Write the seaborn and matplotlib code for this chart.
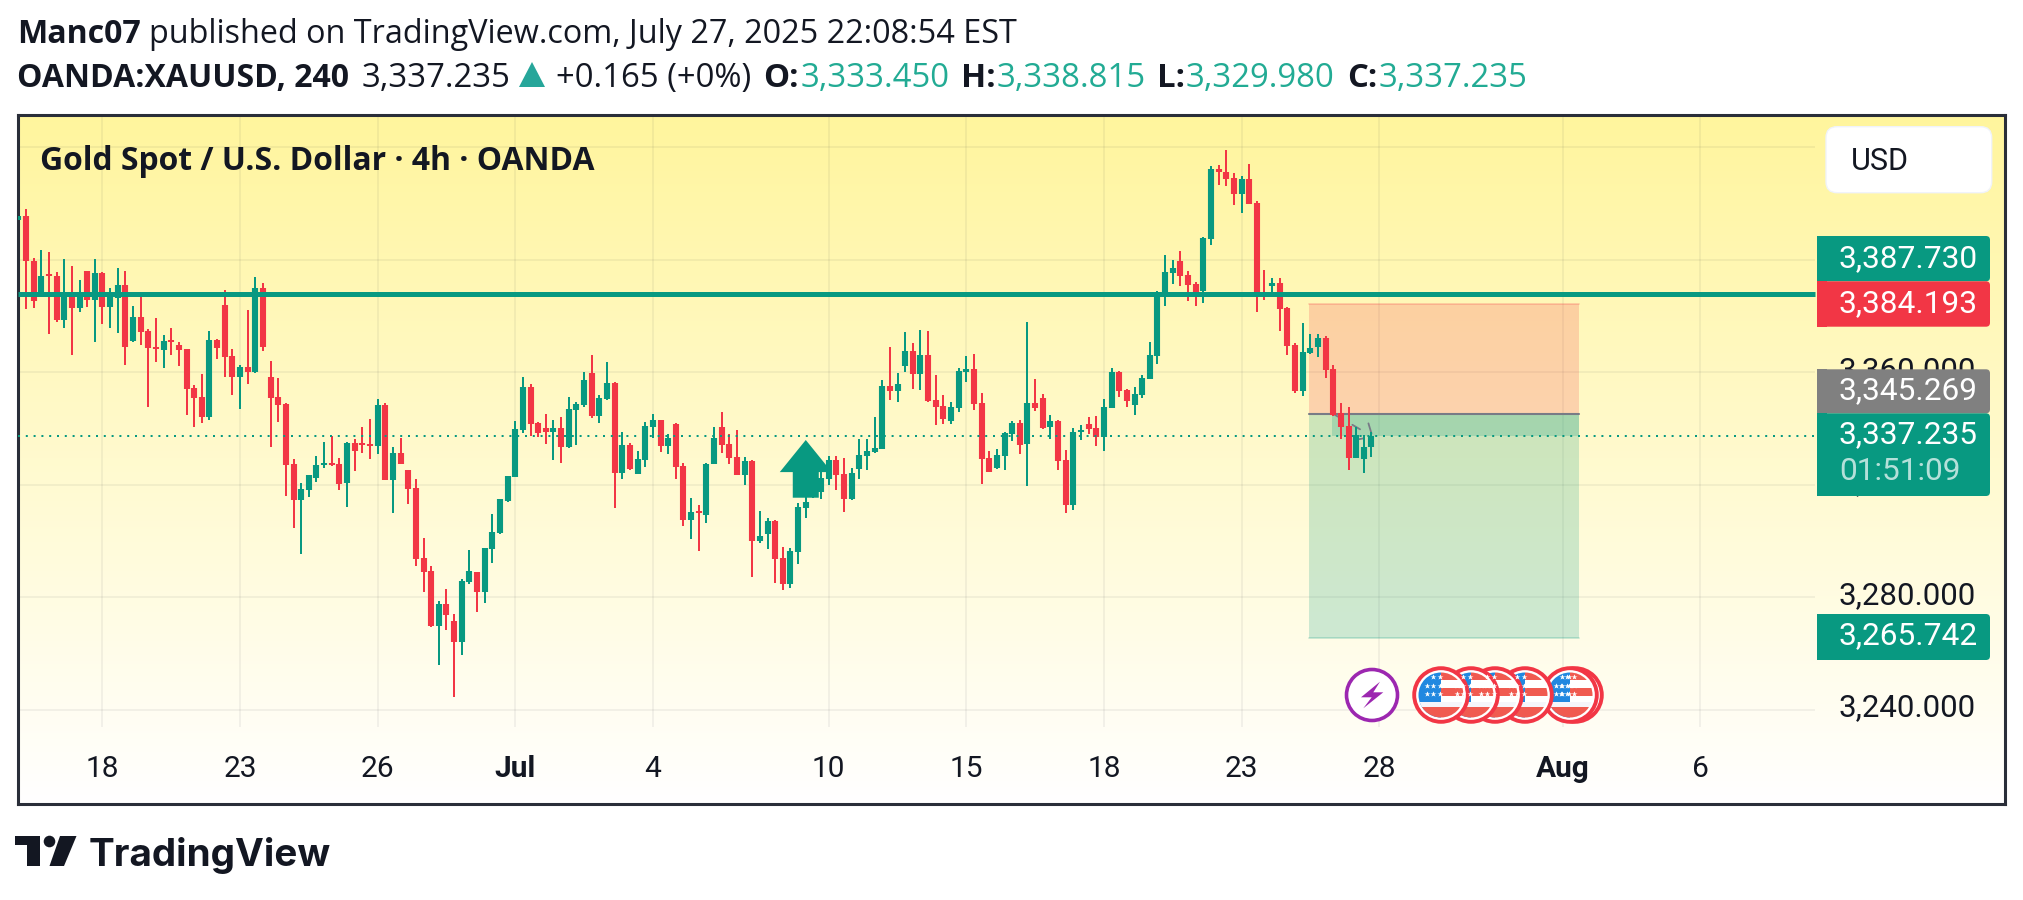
import numpy as np
import pandas as pd
import seaborn as sns
import matplotlib.pyplot as plt
from matplotlib.patches import Circle, FancyBboxPatch, Polygon, Rectangle
from matplotlib.lines import Line2D
from matplotlib.transforms import Affine2D, IdentityTransform

# 4h candles
opens = [3413.9, 3415.5, 3399.5, 3387.4, 3394.9, 3394.2, 3378.5, 3386.8, 3382.8, 3395.9,
         3385.6, 3395.2, 3383.2, 3386.4, 3391.0, 3371.1, 3379.6, 3374.6, 3368.9, 3367.9,
         3371.4, 3369.7, 3368.2, 3354.4, 3351.2, 3344.1, 3371.4, 3383.9, 3365.8, 3358.3,
         3361.8, 3360.1, 3389.9, 3358.3, 3351.2, 3348.7, 3327.4, 3314.6, 3318.2, 3322.4,
         3327.0, 3327.7, 3327.4, 3320.6, 3334.8, 3334.8, 3334.5, 3333.8, 3348.3, 3321.7,
         3331.3, 3325.3, 3318.9, 3294.0, 3289.4, 3269.8, 3277.7, 3271.6, 3264.2, 3285.5,
         3289.0, 3281.9, 3297.2, 3302.9, 3314.2, 3322.8, 3339.5, 3354.7, 3342.0, 3340.2,
         3338.8, 3340.2, 3333.4, 3346.6, 3348.3, 3359.7, 3344.4, 3350.5, 3356.2, 3324.2,
         3334.2, 3323.8, 3328.8, 3340.5, 3343.0, 3333.8, 3341.6, 3326.7, 3307.5, 3310.7,
         3309.3, 3327.4, 3340.5, 3334.5, 3329.9, 3323.5, 3328.5, 3300.0, 3302.5, 3307.2,
         3294.0, 3284.8, 3296.1, 3311.8, 3315.8, 3317.4, 3322.1, 3328.8, 3323.8, 3315.0,
         3325.6, 3330.2, 3331.7, 3332.7, 3355.1, 3353.3, 3362.2, 3367.5, 3359.4, 3366.1,
         3350.1, 3348.0, 3342.7, 3347.3, 3360.1, 3361.2, 3349.1, 3329.5, 3326.0, 3330.3,
         3338.1, 3342.0, 3334.5, 3349.1, 3350.9, 3340.6, 3342.7, 3328.8, 3312.9, 3338.8,
         3341.6, 3340.2, 3337.0, 3347.3, 3360.1, 3353.7, 3348.4, 3351.9, 3357.6, 3365.8,
         3387.8, 3395.3, 3399.5, 3394.5, 3391.4, 3388.9, 3407.3, 3432.2, 3431.1, 3429.0,
         3423.3, 3428.6, 3420.1, 3387.8, 3390.6, 3391.7, 3382.8, 3369.7, 3353.3, 3366.8,
         3369.0, 3372.2, 3361.2, 3345.5, 3340.9, 3329.5, 3329.2, 3333.45]
highs = [3415.5, 3418.0, 3400.5, 3403.4, 3402.7, 3395.6, 3400.2, 3397.8, 3392.7, 3395.9,
         3400.2, 3395.6, 3389.9, 3397.0, 3395.9, 3383.5, 3388.1, 3375.3, 3379.2, 3373.2,
         3375.7, 3370.7, 3368.2, 3355.4, 3359.4, 3374.6, 3371.8, 3389.2, 3368.2, 3362.6,
         3382.1, 3393.8, 3391.7, 3364.0, 3357.9, 3349.0, 3329.2, 3320.6, 3323.5, 3330.2,
         3335.2, 3337.3, 3329.5, 3335.2, 3336.3, 3340.5, 3343.4, 3350.5, 3349.0, 3333.4,
         3336.6, 3325.3, 3322.1, 3301.1, 3291.2, 3278.7, 3283.0, 3274.1, 3286.5, 3296.8,
         3289.0, 3297.5, 3309.6, 3315.0, 3323.1, 3342.7, 3358.3, 3355.8, 3342.3, 3345.2,
         3343.0, 3344.1, 3351.2, 3349.4, 3360.1, 3366.1, 3351.9, 3363.6, 3356.5, 3338.8,
         3334.9, 3332.0, 3342.3, 3345.2, 3343.0, 3338.0, 3342.0, 3327.7, 3315.3, 3312.8,
         3327.7, 3340.5, 3345.9, 3338.0, 3339.5, 3329.9, 3328.8, 3310.7, 3308.2, 3307.5,
         3297.9, 3297.6, 3313.5, 3315.8, 3328.0, 3325.3, 3330.2, 3330.2, 3329.5, 3326.0,
         3336.3, 3336.3, 3344.1, 3357.2, 3369.0, 3359.7, 3374.3, 3370.4, 3375.0, 3374.6,
         3359.0, 3351.9, 3349.4, 3361.5, 3365.8, 3366.5, 3352.6, 3332.0, 3332.7, 3338.8,
         3342.7, 3343.0, 3377.9, 3357.6, 3352.3, 3344.8, 3343.0, 3332.4, 3340.2, 3341.3,
         3344.1, 3344.5, 3350.5, 3361.5, 3360.4, 3354.1, 3354.8, 3359.0, 3370.7, 3388.9,
         3401.7, 3399.9, 3403.1, 3396.0, 3392.1, 3408.0, 3433.3, 3433.6, 3438.9, 3430.8,
         3429.7, 3434.0, 3420.8, 3396.3, 3393.5, 3393.5, 3383.2, 3370.4, 3377.5, 3373.6,
         3373.6, 3372.9, 3362.6, 3349.1, 3347.7, 3340.6, 3337.7, 3338.815]
lows = [3413.9, 3382.6, 3382.8, 3387.0, 3373.6, 3377.8, 3375.7, 3366.1, 3381.4, 3383.2,
        3370.7, 3377.1, 3375.7, 3373.9, 3362.6, 3370.7, 3369.7, 3347.6, 3363.6, 3361.5,
        3366.1, 3362.2, 3344.8, 3340.5, 3341.9, 3343.0, 3364.7, 3358.3, 3351.9, 3346.9,
        3355.8, 3359.7, 3367.5, 3333.4, 3342.3, 3316.0, 3304.7, 3295.4, 3315.7, 3321.0,
        3326.0, 3326.7, 3318.2, 3312.1, 3324.9, 3331.3, 3329.2, 3330.9, 3321.7, 3310.0,
        3327.4, 3313.2, 3291.2, 3281.9, 3269.5, 3256.0, 3268.4, 3244.6, 3259.5, 3284.8,
        3274.8, 3278.0, 3292.2, 3302.5, 3313.9, 3322.8, 3338.4, 3337.3, 3337.0, 3334.5,
        3328.8, 3327.7, 3333.1, 3334.1, 3347.6, 3343.7, 3342.0, 3350.1, 3311.8, 3322.1,
        3325.3, 3323.8, 3326.3, 3336.6, 3331.6, 3330.9, 3322.1, 3305.4, 3300.8, 3296.5,
        3306.4, 3327.4, 3331.3, 3327.4, 3323.5, 3319.9, 3287.3, 3299.3, 3297.2, 3285.1,
        3282.6, 3283.4, 3291.9, 3308.2, 3315.2, 3315.0, 3319.9, 3318.2, 3310.3, 3314.6,
        3322.1, 3325.3, 3331.3, 3332.7, 3350.1, 3349.4, 3360.1, 3354.0, 3353.7, 3349.4,
        3341.3, 3341.6, 3341.6, 3345.9, 3356.5, 3346.6, 3320.3, 3324.6, 3325.6, 3325.3,
        3335.6, 3331.0, 3319.6, 3346.2, 3339.8, 3336.3, 3325.3, 3310.0, 3311.1, 3336.0,
        3338.1, 3333.8, 3332.0, 3347.3, 3351.2, 3347.7, 3344.8, 3350.9, 3357.6, 3362.9,
        3383.5, 3391.4, 3390.6, 3385.3, 3383.5, 3384.6, 3405.2, 3426.5, 3426.2, 3419.4,
        3416.6, 3419.8, 3381.4, 3385.7, 3388.0, 3374.7, 3366.1, 3352.6, 3351.6, 3366.5,
        3365.4, 3358.0, 3344.5, 3336.3, 3325.3, 3329.5, 3324.2, 3329.98]
closes = [3415.5, 3399.3, 3385.1, 3394.2, 3394.2, 3378.5, 3388.4, 3382.8, 3388.4, 3385.6,
          3395.2, 3383.2, 3388.4, 3391.0, 3368.9, 3379.6, 3374.3, 3368.6, 3368.2, 3371.1,
          3370.7, 3367.9, 3354.0, 3350.8, 3344.1, 3371.4, 3368.6, 3365.4, 3358.3, 3361.8,
          3360.1, 3389.9, 3368.9, 3350.8, 3348.3, 3327.0, 3314.6, 3318.5, 3323.5, 3327.0,
          3327.7, 3327.0, 3320.3, 3334.8, 3332.0, 3334.1, 3333.8, 3348.3, 3321.7, 3331.3,
          3327.4, 3318.5, 3293.6, 3289.0, 3269.8, 3277.7, 3273.8, 3264.2, 3285.8, 3289.4,
          3281.9, 3297.5, 3303.2, 3315.0, 3323.1, 3339.8, 3354.7, 3341.6, 3338.4, 3338.8,
          3340.2, 3333.4, 3346.9, 3348.7, 3357.2, 3344.4, 3350.8, 3356.2, 3324.2, 3334.2,
          3325.6, 3329.2, 3340.9, 3343.0, 3333.8, 3336.6, 3326.3, 3307.5, 3310.3, 3310.0,
          3327.4, 3336.6, 3334.2, 3329.5, 3323.5, 3328.5, 3300.0, 3301.8, 3307.2, 3293.7,
          3284.8, 3296.5, 3312.1, 3313.9, 3320.5, 3322.4, 3328.8, 3323.5, 3315.0, 3324.2,
          3330.6, 3332.0, 3333.1, 3355.1, 3353.3, 3355.8, 3367.5, 3359.4, 3366.1, 3349.8,
          3347.6, 3343.4, 3347.6, 3360.4, 3361.1, 3348.7, 3329.2, 3324.6, 3330.6, 3338.4,
          3342.0, 3334.2, 3349.1, 3347.3, 3340.2, 3342.7, 3328.5, 3312.9, 3338.8, 3339.5,
          3339.8, 3337.0, 3347.7, 3360.1, 3353.3, 3349.8, 3352.3, 3358.0, 3366.1, 3387.8,
          3395.6, 3397.0, 3394.2, 3391.0, 3387.4, 3407.7, 3432.2, 3431.1, 3428.6, 3423.3,
          3428.6, 3419.8, 3387.1, 3387.1, 3391.7, 3382.5, 3369.3, 3353.3, 3367.2, 3368.6,
          3372.2, 3360.8, 3344.8, 3340.6, 3329.5, 3337.7, 3333.45, 3337.235]

price_ticks = [3240, 3280, 3320, 3360, 3400, 3440]
price_labels = ["3,240.000", "3,280.000", "3,320.000", "3,360.000", "", ""]
time_ticks = [11, 29, 47, 65, 83, 106, 124, 142, 160, 178, 202, 220]
time_labels = ["18", "23", "26", "Jul", "4", "10", "15", "18", "23", "28", "Aug", "6"]

level_line = 3387.73
last_price = 3337.235
stop_price = 3384.193
entry_price = 3345.269
target_price = 3265.742
position_start = 168.8
position_end = 204.1
profit_start = 171.8

GREEN = "#089981"
RED = "#f23645"
TEAL = "#22ab94"
INK = "#131722"
FRAME = "#2a2e39"
GRID = "#2a2e39"

W, H = 2023, 900


def px(x, y):
    # picture pixels, y down -> display coords
    return x, H - y


def put(fig, x, y, s, **kw):
    kw.setdefault("color", INK)
    kw.setdefault("fontsize", 23.7)
    kw.setdefault("family", "Open Sans")
    return fig.text(x / W, 1 - y / H, s, va="baseline", **kw)


def segments(ax, idx, lo, hi, color, lw):
    seg = pd.DataFrame({"i": np.repeat(idx, 2), "p": np.column_stack([lo, hi]).ravel()})
    sns.lineplot(data=seg, x="i", y="p", units="i", estimator=None, sort=False,
                 color=color, linewidth=lw, solid_capstyle="butt", legend=False,
                 ax=ax, zorder=3)


def tag(fig, x0, x1, y0, y1, color):
    tr = IdentityTransform()
    fig.add_artist(FancyBboxPatch(px(x0, y1), x1 - x0, y1 - y0, boxstyle="round,pad=0,rounding_size=4",
                                  fc=color, ec="none", transform=tr))
    fig.add_artist(Rectangle(px(x0, y1), 10, y1 - y0, fc=color, ec="none", transform=tr))


def flag(fig, cx, cy):
    tr = IdentityTransform()
    fig.add_artist(Circle(px(cx, cy), 26.8, fc="white", ec="#f23645", lw=2.8, transform=tr))
    clip = Circle(px(cx, cy), 22.5, transform=tr)
    parts = [(-23, -23, 23, 46, "#2188e0"), (0, -23, 23, 8, "#f05a50"), (0, -7, 23, 8, "#f05a50"),
             (-23, 7, 46, 5, "#f5f5fa"), (-23, 12, 46, 11, "#f05a50")]
    for dx, dy, w, h, c in parts:
        r = Rectangle(px(cx + dx, cy + dy + h), w, h, fc=c, ec="none", transform=tr)
        fig.add_artist(r)
        r.set_clip_path(clip)
    star_x = [-8, -1, -14, -8, -1, -14, -8, -1]
    star_y = [-18, -18, -9, -9, -9, -1, -1, -1]
    fig.add_artist(Line2D([cx + a for a in star_x], [H - cy - b for b in star_y], ls="none",
                          marker="*", ms=4.4, mfc="white", mec="none", transform=tr))


sns.set_theme(style="white")
plt.rcParams["font.family"] = ["Roboto", "DejaVu Sans"]

fig = plt.figure(figsize=(W / 100, H / 100), dpi=100, facecolor="white")
ax = fig.add_axes([17.5 / W, (H - 803.5) / H, (2004.5 - 17.5) / W, (803.5 - 114.5) / H])

xlim = (-0.11, 259.8)
ylim = (3206.8, 3451.5)
pane_right = 235.0
pane_bottom = 3234.0

# yellow -> white wash behind everything
wash = np.linspace(0, 1, 256)[:, None, None]
top_c = np.array([255, 245, 157]) / 255
ax.imshow(top_c + (1 - top_c) * wash, extent=[*xlim, *ylim], aspect="auto", origin="upper", zorder=0)

ax.hlines(price_ticks, xlim[0], pane_right, color=GRID, alpha=0.06, lw=1.4, zorder=1)
ax.vlines(time_ticks, pane_bottom, ylim[1], color=GRID, alpha=0.06, lw=1.4, zorder=1)

# short position tool
ax.fill_between([position_start, position_end], entry_price, stop_price, color=RED, alpha=0.2, lw=0, zorder=1.5)
ax.fill_between([position_start, position_end], target_price, entry_price, color=GREEN, alpha=0.2, lw=0, zorder=1.5)
ax.fill_between([profit_start, position_end], last_price, entry_price, color=GREEN, alpha=0.2, lw=0, zorder=1.5)
ax.plot([position_start, position_end], [stop_price, stop_price], color=RED, alpha=0.25, lw=1.2, zorder=1.6)
ax.plot([position_start, position_end], [target_price, target_price], color=GREEN, alpha=0.25, lw=1.2, zorder=1.6)
ax.plot([position_start, position_end], [entry_price, entry_price], color="#787b86", lw=1.5, zorder=1.6)

# bits of the dashed price path that show between the candles
path_bits = [([172.0, 172.6], [3345.2, 3344.2]), ([174.5, 175.5], [3341.3, 3339.7]),
             ([175.4, 176.0], [3336.2, 3336.5]), ([176.6, 177.0], [3341.8, 3338.2])]
for bx, by in path_bits:
    ax.plot(bx, by, color="#787b86", lw=1.3, zorder=2)

o = np.array(opens)
c = np.array(closes)
hi = np.array(highs)
lo = np.array(lows)
idx = np.arange(len(o))
up = c >= o
for mask, colr in [(up, GREEN), (~up, RED)]:
    segments(ax, idx[mask], lo[mask], hi[mask], colr, 1.44)
    segments(ax, idx[mask], np.minimum(o, c)[mask], np.maximum(o, c)[mask], colr, 4.4)

ax.hlines(level_line, xlim[0], pane_right, color=GREEN, lw=3.6, zorder=4)
ax.hlines(last_price, xlim[0], pane_right, color=GREEN, lw=1.44, linestyles=(0, (1, 2.9)), zorder=4)

# up arrow marker
arrow_x = [99.6, 103.0, 106.4, 104.7, 104.7, 101.3, 101.3]
arrow_y = [3324.5, 3335.9, 3324.5, 3324.5, 3315.4, 3315.4, 3324.5]
ax.fill(arrow_x, arrow_y, color=GREEN, lw=0, zorder=5)

ax.set(xlim=xlim, ylim=ylim, xlabel="", ylabel="")
ax.yaxis.tick_right()
ax.set_yticks(price_ticks)
ax.set_yticklabels(price_labels)
ax.set_xticks(time_ticks)
ax.set_xticklabels(time_labels)
ax.tick_params(axis="y", length=0, pad=-119.2, labelsize=22.5, labelcolor=INK)
ax.tick_params(axis="x", length=0, pad=-35, labelsize=21.5, labelcolor=INK)
for lab in ax.get_yticklabels():
    lab.set_transform(lab.get_transform() + Affine2D().translate(0, 5))
for lab in ax.get_xticklabels():
    if lab.get_text() in ("Jul", "Aug"):
        lab.set_fontweight("bold")
for sp in ax.spines.values():
    sp.set_color(FRAME)
    sp.set_linewidth(2.2)

# header lines
put(fig, 17, 43, "Manc07", fontweight="bold", fontsize=23.1)
put(fig, 149, 43, "published on TradingView.com, July 27, 2025 22:08:54 EST", fontsize=23.3)
put(fig, 17, 87, "OANDA:XAUUSD, 240", fontweight="bold", fontsize=23.05)
put(fig, 362, 87, "3,337.235")
fig.add_artist(Polygon([px(519, 87), px(532, 62), px(545, 87)], fc="#26a69a", ec="none", transform=IdentityTransform()))
put(fig, 556, 87, "+0.165 (+0%)")
for x_l, lab, x_v, val in [(763, "O:", 800.5, "3,333.450"), (961, "H:", 997, "3,338.815"),
                           (1157.5, "L:", 1186, "3,329.980"), (1347, "C:", 1379, "3,337.235")]:
    put(fig, x_l, 87, lab, fontweight="bold")
    put(fig, x_v, 87, val, color=TEAL)
put(fig, 40, 170, "Gold Spot / U.S. Dollar · 4h · OANDA", fontweight="bold", fontsize=22.95)

# USD button
fig.add_artist(FancyBboxPatch(px(1826, 192.7), 165.7, 66, boxstyle="round,pad=0,rounding_size=11",
                              fc="white", ec="#f0f3fa", lw=1, transform=IdentityTransform()))
put(fig, 1851, 169.5, "USD", family="Roboto", fontsize=22)

# price tags
tag(fig, 1817, 1990, 236, 281.3, GREEN)
tag(fig, 1817, 1990, 281.3, 326.7, RED)
tag(fig, 1817, 1990, 369.3, 413.3, "#808080")
tag(fig, 1817, 1990, 413.3, 496, GREEN)
tag(fig, 1817, 1990, 614, 660, GREEN)
for y, s in [(267, "3,387.730"), (312, "3,384.193"), (399, "3,345.269"), (443, "3,337.235"), (644, "3,265.742")]:
    put(fig, 1839, y, s, color="white", family="Roboto", fontsize=22.8)
put(fig, 1839, 480, "01:51:09", color="white", alpha=0.7, family="Roboto", fontsize=22.8)

# event icons
fig.add_artist(Circle(px(1372, 695), 25.5, fc="white", ec="#9c27b0", lw=2.6, transform=IdentityTransform()))
bolt = [(1380, 681.7), (1361, 697.3), (1371.7, 697.3), (1363.3, 708.3), (1383.3, 692.3), (1373.3, 692.3)]
fig.add_artist(Polygon([px(*p) for p in bolt], fc="#9c27b0", ec="none", transform=IdentityTransform()))
for cx in [1575, 1570, 1525, 1495, 1471, 1441]:
    flag(fig, cx, 695)

# logo
logo_parts = [[(15, 836), (40, 836), (40, 866), (26.5, 866), (26.5, 845), (15, 845)],
              [(60, 836), (76.5, 836), (64, 866), (49.5, 866)]]
for part in logo_parts:
    fig.add_artist(Polygon([px(*p) for p in part], fc=INK, ec="none", transform=IdentityTransform()))
fig.add_artist(Circle(px(49.5, 841.5), 5.8, fc=INK, ec="none", transform=IdentityTransform()))
put(fig, 89, 866, "TradingView", family="Inter", fontweight="bold", fontsize=27.8)

fig.savefig("out.png", dpi=100)
